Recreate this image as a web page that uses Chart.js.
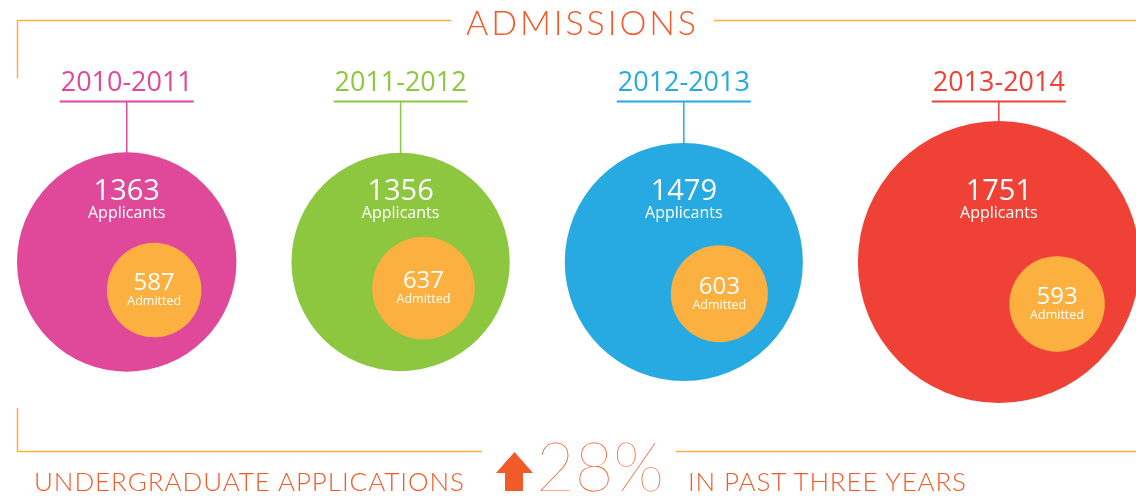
<!DOCTYPE html>
<html>
<head>
<meta charset="utf-8">
<script src="https://cdn.jsdelivr.net/npm/chart.js@4.4.1/dist/chart.umd.min.js"></script>
<style>
    body { margin: 0; background: #fff; }
    .wrap { position: relative; width: 1136px; height: 501px; overflow: hidden; }
    .wrap canvas { position: absolute; left: 0; top: 0; }
    .frame { position: absolute; left: 0; top: 0; pointer-events: none; }
</style>
</head>
<body>
<div class="wrap">
    <canvas id="admissionsChart" width="1136" height="501"></canvas>
    <svg class="frame" width="1136" height="501" xmlns="http://www.w3.org/2000/svg">
        <g stroke="#FBB040" stroke-width="1.5" fill="none">
            <polyline points="17.5,78 17.5,20.5 451,20.5" />
            <line x1="714" y1="20.5" x2="1136" y2="20.5" />
            <polyline points="17.5,408 17.5,451.5 482,451.5" />
            <line x1="676" y1="451.5" x2="1136" y2="451.5" />
        </g>
        <g fill="#F15A29" font-family="Lato, 'Open Sans', sans-serif" font-weight="300">
            <text x="466" y="35" font-size="34" textLength="230" lengthAdjust="spacing">ADMISSIONS</text>
            <text x="34" y="491" font-size="26" textLength="430" lengthAdjust="spacing">UNDERGRADUATE APPLICATIONS</text>
            <polygon points="496,473 514.5,452 533,473 523,473 523,491 505,491 505,473" />
            <text x="536" y="491" font-size="68" font-weight="200" textLength="128" lengthAdjust="spacingAndGlyphs">28%</text>
            <text x="688" y="491" font-size="26" textLength="278" lengthAdjust="spacing">IN PAST THREE YEARS</text>
        </g>
    </svg>
</div>
<script>
// Admissions data
const years = ['2010-2011', '2011-2012', '2012-2013', '2013-2014'];
const applicants = [1363, 1356, 1479, 1751];
const admitted = [587, 637, 603, 593];

// Styling
const yearColors = ['#E0489A', '#8DC63F', '#27AAE1', '#EF4136'];
const admittedColor = '#FBB040';
const PX_PER_PERSON = 0.0805;   // bubble radius per applicant
const LEFT_EDGE = 17;
const BUBBLE_GAP = 55;
const ROW_Y = 262;
const INSET_X = 35;
const DROP = 0.45;

// Lay the bubbles out side by side, each one as big as its value
const centers = [];
let cursor = LEFT_EDGE;
applicants.forEach(v => {
    const R = v * PX_PER_PERSON;
    centers.push(cursor + R);
    cursor += 2 * R + BUBBLE_GAP;
});

const outerPoints = applicants.map((v, i) => ({ x: centers[i], y: ROW_Y, r: v * PX_PER_PERSON }));
const innerPoints = admitted.map((v, i) => {
    const R = applicants[i] * PX_PER_PERSON;
    const r = v * PX_PER_PERSON;
    return { x: centers[i] + (R - r) - INSET_X, y: ROW_Y + DROP * (R - r), r: r };
});

// Bubble controller without the extra padding for big radii,
// so the chart area stays the full canvas
class FlatBubble extends Chart.BubbleController {
    getMaxOverflow() { return 0; }
}
FlatBubble.id = 'flatBubble';
FlatBubble.defaults = Chart.BubbleController.defaults;
FlatBubble.overrides = Chart.BubbleController.overrides;
Chart.register(FlatBubble);

// Labels, year headers and connectors
const labelPlugin = {
    id: 'bubbleLabels',
    afterDatasetsDraw(chart) {
        const ctx = chart.ctx;
        const outer = chart.getDatasetMeta(0).data;
        const inner = chart.getDatasetMeta(1).data;
        ctx.save();
        ctx.textAlign = 'center';
        ctx.textBaseline = 'alphabetic';
        outer.forEach((el, i) => {
            const R = el.options.radius;
            const color = yearColors[i];

            // year header
            ctx.fillStyle = color;
            ctx.font = '28px "Open Sans", sans-serif';
            ctx.fillText(years[i], el.x, 91, 132);
            const w = Math.min(ctx.measureText(years[i]).width, 132) + 2;
            ctx.fillRect(el.x - w / 2, 100.5, w, 2);

            ctx.strokeStyle = color;
            ctx.lineWidth = 1.5;
            ctx.beginPath();
            ctx.moveTo(el.x, 102);
            ctx.lineTo(el.x, el.y - R + 1);
            ctx.stroke();

            // applicants
            ctx.fillStyle = '#fff';
            ctx.font = '29px "Open Sans", sans-serif';
            ctx.fillText(applicants[i], el.x, el.y - 62);
            ctx.font = '16px "Open Sans", sans-serif';
            ctx.fillText('Applicants', el.x, el.y - 44);

            // admitted
            const p = inner[i];
            ctx.font = '24px "Open Sans", sans-serif';
            ctx.fillText(admitted[i], p.x, p.y);
            ctx.font = '12.5px "Open Sans", sans-serif';
            ctx.fillText('Admitted', p.x, p.y + 15);
        });
        ctx.restore();
    }
};

document.addEventListener('DOMContentLoaded', function() {
    const canvas = document.getElementById('admissionsChart');
    new Chart(canvas, {
        type: 'flatBubble',
        data: {
            datasets: [{
                label: 'Applicants',
                data: outerPoints,
                backgroundColor: yearColors,
                borderWidth: 0,
                hoverRadius: 0,
                clip: false,
                order: 1
            }, {
                label: 'Admitted',
                data: innerPoints,
                backgroundColor: admittedColor,
                borderWidth: 0,
                hoverRadius: 0,
                clip: false,
                order: 0
            }]
        },
        options: {
            responsive: false,
            animation: false,
            layout: { padding: 0 },
            scales: {
                x: { type: 'linear', min: 0, max: 1136, display: false },
                y: { type: 'linear', min: 0, max: 501, reverse: true, display: false }
            },
            plugins: {
                legend: { display: false },
                tooltip: { enabled: false }
            }
        },
        plugins: [labelPlugin]
    });
});
</script>
</body>
</html>
